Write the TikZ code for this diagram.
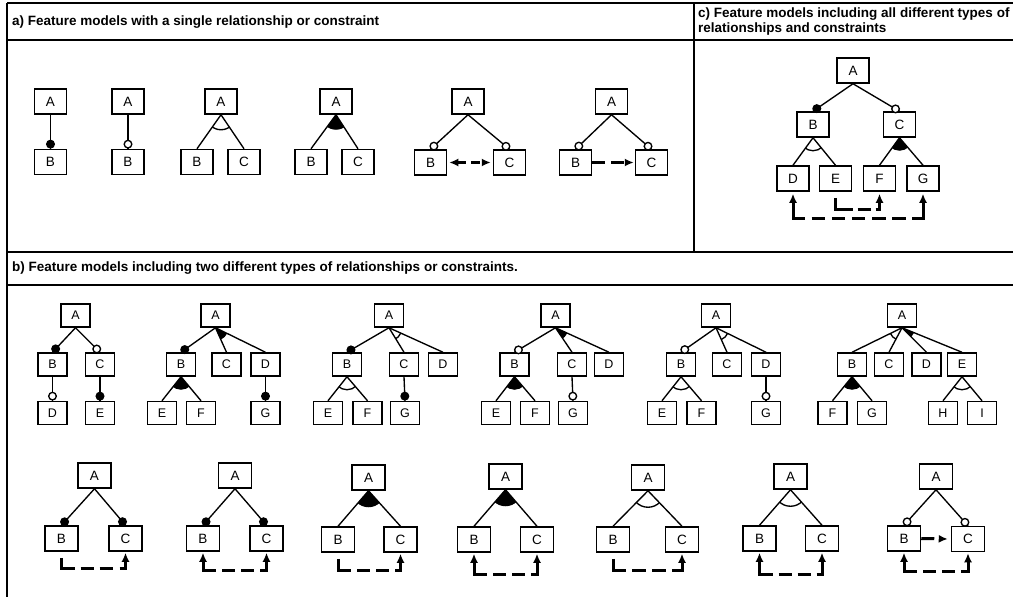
\documentclass[tikz,border=0pt]{standalone}
\usepackage{fontspec}
\setmainfont{Liberation Sans}
\usetikzlibrary{arrows.meta,calc}
\tikzset{
  frame/.style={line width=1.5pt},
  ttl/.style={anchor=west, inner sep=0pt, font=\fontsize{13.5}{15}\selectfont\bfseries},
  fa/.style={draw, line width=1.5pt, minimum width=32pt, minimum height=25pt, inner sep=0pt, font=\fontsize{13.5}{13.5}\selectfont},
  fb/.style={fa, minimum width=29pt, minimum height=23pt, font=\fontsize{12.5}{12.5}\selectfont},
  fr/.style={fa, minimum width=33pt},
  tree/.style={line width=1.35pt},
  cons/.style={line width=3pt, dash pattern=on 12pt off 6pt},
  req/.style={cons, -{Latex[length=9pt,width=8pt]}},
  exc/.style={cons, {Latex[length=9pt,width=8pt]}-{Latex[length=9pt,width=8pt]}},
}
\newcommand{\fmMand}[2]{\draw[tree] (#1.south) -- (#2.north);
  \filldraw[tree,fill=black] ($(#2.north)!4.6pt!(#1.south)$) circle[radius=3.8pt];}
\newcommand{\fmOpt}[2]{\draw[tree] (#1.south) -- (#2.north);
  \filldraw[tree,fill=white] ($(#2.north)!4.6pt!(#1.south)$) circle[radius=3.8pt];}
\newcommand{\fmGrp}[5]{\draw[tree] (#3.south) -- (#4.north); \draw[tree] (#3.south) -- (#5.north);
  \begin{scope}\clip (#3.south) -- (#4.north) -- (#5.north) -- cycle;
  \path[tree,#2] (#3.south) circle[radius=#1];\end{scope}}
\begin{document}
\begin{tikzpicture}[x=1pt,y=-1pt]
\useasboundingbox (0,0) rectangle (1013,597);
% frame
\draw[frame] (7,3) -- (1013,3);
\draw[frame] (7,3) -- (7,597);
\draw[frame] (7,40) -- (1013,40);
\draw[frame] (694,3) -- (694,252);
\draw[frame] (7,252) -- (1013,252);
\draw[frame] (7,285) -- (1013,285);
\node[ttl] (ta) at (12,22) {a) Feature models with a single relationship or constraint};
\node[ttl] (tc1) at (698,14) {c) Feature models including all different types of};
\node[ttl] (tc2) at (698,29) {relationships and constraints};
\node[ttl] (tb) at (12,268) {b) Feature models including two different types of relationships or constraints.};
% ---- a)
\node[fa] (a1A) at (50.5,101.5) {A}; \node[fa] (a1B) at (50.5,162) {B};
\fmMand{a1A}{a1B}
\node[fa] (a2A) at (128,101.5) {A}; \node[fa] (a2B) at (128,162) {B};
\fmOpt{a2A}{a2B}
\node[fa] (a3A) at (221,101.5) {A}; \node[fa] (a3B) at (197,162) {B}; \node[fa] (a3C) at (244,162) {C};
\fmGrp{15pt}{draw}{a3A}{a3B}{a3C}
\node[fa] (a4A) at (336,101.5) {A}; \node[fa] (a4B) at (311,162) {B}; \node[fa] (a4C) at (358,162) {C};
\fmGrp{15pt}{fill}{a4A}{a4B}{a4C}
\node[fa] (a5A) at (468,101.5) {A}; \node[fa] (a5B) at (430.5,162.5) {B}; \node[fa] (a5C) at (509.5,162.5) {C};
\fmOpt{a5A}{a5B} \fmOpt{a5A}{a5C}
\draw[exc, dash pattern=on 9pt off 5pt] ($(a5B.east)+(2,0)$) -- ($(a5C.west)+(-2,0)$);
\node[fa] (a6A) at (611.5,101.5) {A}; \node[fa] (a6B) at (575.5,162.5) {B}; \node[fa] (a6C) at (651.5,162.5) {C};
\fmOpt{a6A}{a6B} \fmOpt{a6A}{a6C}
\draw[req, dash pattern=on 13pt off 6pt] (a6B.east) -- ($(a6C.west)+(-1,0)$);
% ---- c)
\node[fa] (cA) at (853,70.5) {A};
\node[fa] (cB) at (813,124.5) {B}; \node[fa] (cC) at (899.5,124.5) {C};
\node[fa] (cD) at (793,178.5) {D}; \node[fa] (cE) at (835.5,178.5) {E};
\node[fa] (cF) at (879.5,178.5) {F}; \node[fa] (cG) at (923,178.5) {G};
\fmMand{cA}{cB} \fmOpt{cA}{cC}
\fmGrp{13pt}{draw}{cB}{cD}{cE}
\fmGrp{13pt}{fill}{cC}{cF}{cG}
\draw[req, dash pattern=on 29pt off 5pt on 13pt off 5pt on 40pt off 1pt] ($(cE.south)+(0,6)$) -- ++(0,12) -| ($(cF.south)+(0,2)$);
\draw[exc, dash pattern=on 29pt off 6.6pt on 13.5pt off 6.6pt on 13.5pt off 6.6pt on 13.5pt off 6.6pt on 13.5pt off 6.6pt on 13.5pt off 6.6pt on 60pt off 1pt] ($(cD.south)+(0,2)$) -- ++(0,25) -| ($(cG.south)+(0,2)$);
% ---- b) row 1
\node[fb] (b1A) at (75.5,315.5) {A};
\node[fb] (b1B) at (52.5,364.5) {B}; \node[fb] (b1C) at (100,364.5) {C};
\node[fb] (b1D) at (52.5,413) {D}; \node[fb] (b1E) at (100,413) {E};
\fmMand{b1A}{b1B} \fmOpt{b1A}{b1C} \fmOpt{b1B}{b1D} \fmMand{b1C}{b1E}
%
\node[fb] (b2A) at (215.5,315.5) {A};
\node[fb] (b2B) at (181,364.5) {B}; \node[fb] (b2C) at (226.5,364.5) {C}; \node[fb] (b2D) at (265.5,364.5) {D};
\node[fb] (b2E) at (162,413) {E}; \node[fb] (b2F) at (201,413) {F}; \node[fb] (b2G) at (265.5,413) {G};
\fmMand{b2A}{b2B} \fmGrp{13pt}{fill}{b2A}{b2C}{b2D} \fmGrp{13pt}{fill}{b2B}{b2E}{b2F} \fmMand{b2D}{b2G}
%
\node[fb] (b3A) at (389,315.5) {A};
\node[fb] (b3B) at (347,364.5) {B}; \node[fb] (b3C) at (404,364.5) {C}; \node[fb] (b3D) at (443,364.5) {D};
\node[fb] (b3E) at (328,413) {E}; \node[fb] (b3F) at (367.5,413) {F}; \node[fb] (b3G) at (405,413) {G};
\fmMand{b3A}{b3B} \fmGrp{13pt}{draw}{b3A}{b3C}{b3D} \fmGrp{13pt}{draw}{b3B}{b3E}{b3F} \fmMand{b3C}{b3G}
%
\node[fb] (b4A) at (555.5,315.5) {A};
\node[fb] (b4B) at (514.5,364.5) {B}; \node[fb] (b4C) at (572,364.5) {C}; \node[fb] (b4D) at (609,364.5) {D};
\node[fb] (b4E) at (496,413) {E}; \node[fb] (b4F) at (535,413) {F}; \node[fb] (b4G) at (573,413) {G};
\fmOpt{b4A}{b4B} \fmGrp{13pt}{fill}{b4A}{b4C}{b4D} \fmGrp{13pt}{fill}{b4B}{b4E}{b4F} \fmOpt{b4C}{b4G}
%
\node[fb] (b5A) at (716,315.5) {A};
\node[fb] (b5B) at (681,364.5) {B}; \node[fb] (b5C) at (727,364.5) {C}; \node[fb] (b5D) at (766,364.5) {D};
\node[fb] (b5E) at (662,413) {E}; \node[fb] (b5F) at (701.5,413) {F}; \node[fb] (b5G) at (766,413) {G};
\fmOpt{b5A}{b5B} \fmGrp{13pt}{draw}{b5A}{b5C}{b5D} \fmGrp{13pt}{draw}{b5B}{b5E}{b5F} \fmOpt{b5D}{b5G}
%
\node[fb] (b6A) at (902,315.5) {A};
\node[fb] (b6B) at (852,364.5) {B}; \node[fb] (b6C) at (889,364.5) {C};
\node[fb] (b6D) at (926.5,364.5) {D}; \node[fb] (b6E) at (962,364.5) {E};
\node[fb] (b6F) at (832.5,413) {F}; \node[fb] (b6G) at (872,413) {G};
\node[fb] (b6H) at (943,413) {H}; \node[fb] (b6I) at (982,413) {I};
\fmGrp{13pt}{draw}{b6A}{b6B}{b6C} \fmGrp{13pt}{fill}{b6A}{b6D}{b6E}
\fmGrp{13pt}{fill}{b6B}{b6F}{b6G} \fmGrp{13pt}{draw}{b6E}{b6H}{b6I}
% ---- b) row 2
\node[fr] (r1A) at (94.5,475.5) {A}; \node[fr] (r1B) at (61.5,538.5) {B}; \node[fr] (r1C) at (125.5,538.5) {C};
\fmMand{r1A}{r1B} \fmMand{r1A}{r1C}
\draw[req, dash pattern=on 24pt off 6pt on 13pt off 6pt on 13pt off 7pt on 40pt off 1pt] ($(r1B.south)+(0,6)$) -- ++(0,11) -| ($(r1C.south)+(0,1)$);
%
\node[fr] (r2A) at (235,475.5) {A}; \node[fr] (r2B) at (203,538.5) {B}; \node[fr] (r2C) at (266.5,538.5) {C};
\fmMand{r2A}{r2B} \fmMand{r2A}{r2C}
\draw[exc, dash pattern=on 23pt off 6pt on 13pt off 6pt on 13pt off 6pt on 40pt off 1pt] ($(r2B.south)+(0,1)$) -- ++(0,18) -| ($(r2C.south)+(0,1)$);
%
\node[fr] (r3A) at (368.5,477.5) {A}; \node[fr] (r3B) at (338,539.5) {B}; \node[fr] (r3C) at (400.5,539.5) {C};
\fmGrp{16.5pt}{fill}{r3A}{r3B}{r3C}
\draw[req, dash pattern=on 25pt off 6pt on 13pt off 6pt on 13pt off 6pt on 40pt off 1pt] ($(r3B.south)+(0,6)$) -- ++(0,12) -| ($(r3C.south)+(0,1)$);
%
\node[fr] (r4A) at (505.5,476.5) {A}; \node[fr] (r4B) at (474,539.5) {B}; \node[fr] (r4C) at (537,539.5) {C};
\fmGrp{16.5pt}{fill}{r4A}{r4B}{r4C}
\draw[exc, dash pattern=on 26pt off 6pt on 13pt off 6pt on 13pt off 6pt on 40pt off 1pt] ($(r4B.south)+(0,1)$) -- ++(0,21) -| ($(r4C.south)+(0,1)$);
%
\node[fr] (r5A) at (648,477.5) {A}; \node[fr] (r5B) at (613,539.5) {B}; \node[fr] (r5C) at (682,539.5) {C};
\fmGrp{16.5pt}{draw}{r5A}{r5B}{r5C}
\draw[req, dash pattern=on 25pt off 6pt on 14pt off 6pt on 14pt off 6pt on 40pt off 1pt] ($(r5B.south)+(0,6)$) -- ++(0,12) -| ($(r5C.south)+(0,1)$);
%
\node[fr] (r6A) at (790.5,476.5) {A}; \node[fr] (r6B) at (759.5,538.5) {B}; \node[fr] (r6C) at (822,538.5) {C};
\fmGrp{16.5pt}{draw}{r6A}{r6B}{r6C}
\draw[exc, dash pattern=on 27pt off 6pt on 13pt off 6pt on 13pt off 6pt on 40pt off 1pt] ($(r6B.south)+(0,1)$) -- ++(0,22) -| ($(r6C.south)+(0,1)$);
%
\node[fr] (r7A) at (936,476.5) {A}; \node[fr] (r7B) at (904,538.5) {B}; \node[fr] (r7C) at (968,539) {C};
\fmOpt{r7A}{r7B} \fmOpt{r7A}{r7C}
\draw[req, dash pattern=on 13pt off 6pt] (r7B.east) -- ($(r7C.west)+(-3,0)$);
\draw[exc, dash pattern=on 24pt off 6pt on 13pt off 6pt on 13pt off 6pt on 40pt off 1pt] ($(r7B.south)+(0,1)$) -- ++(0,19) -| ($(r7C.south)+(0,1)$);
\end{tikzpicture}
\end{document}
